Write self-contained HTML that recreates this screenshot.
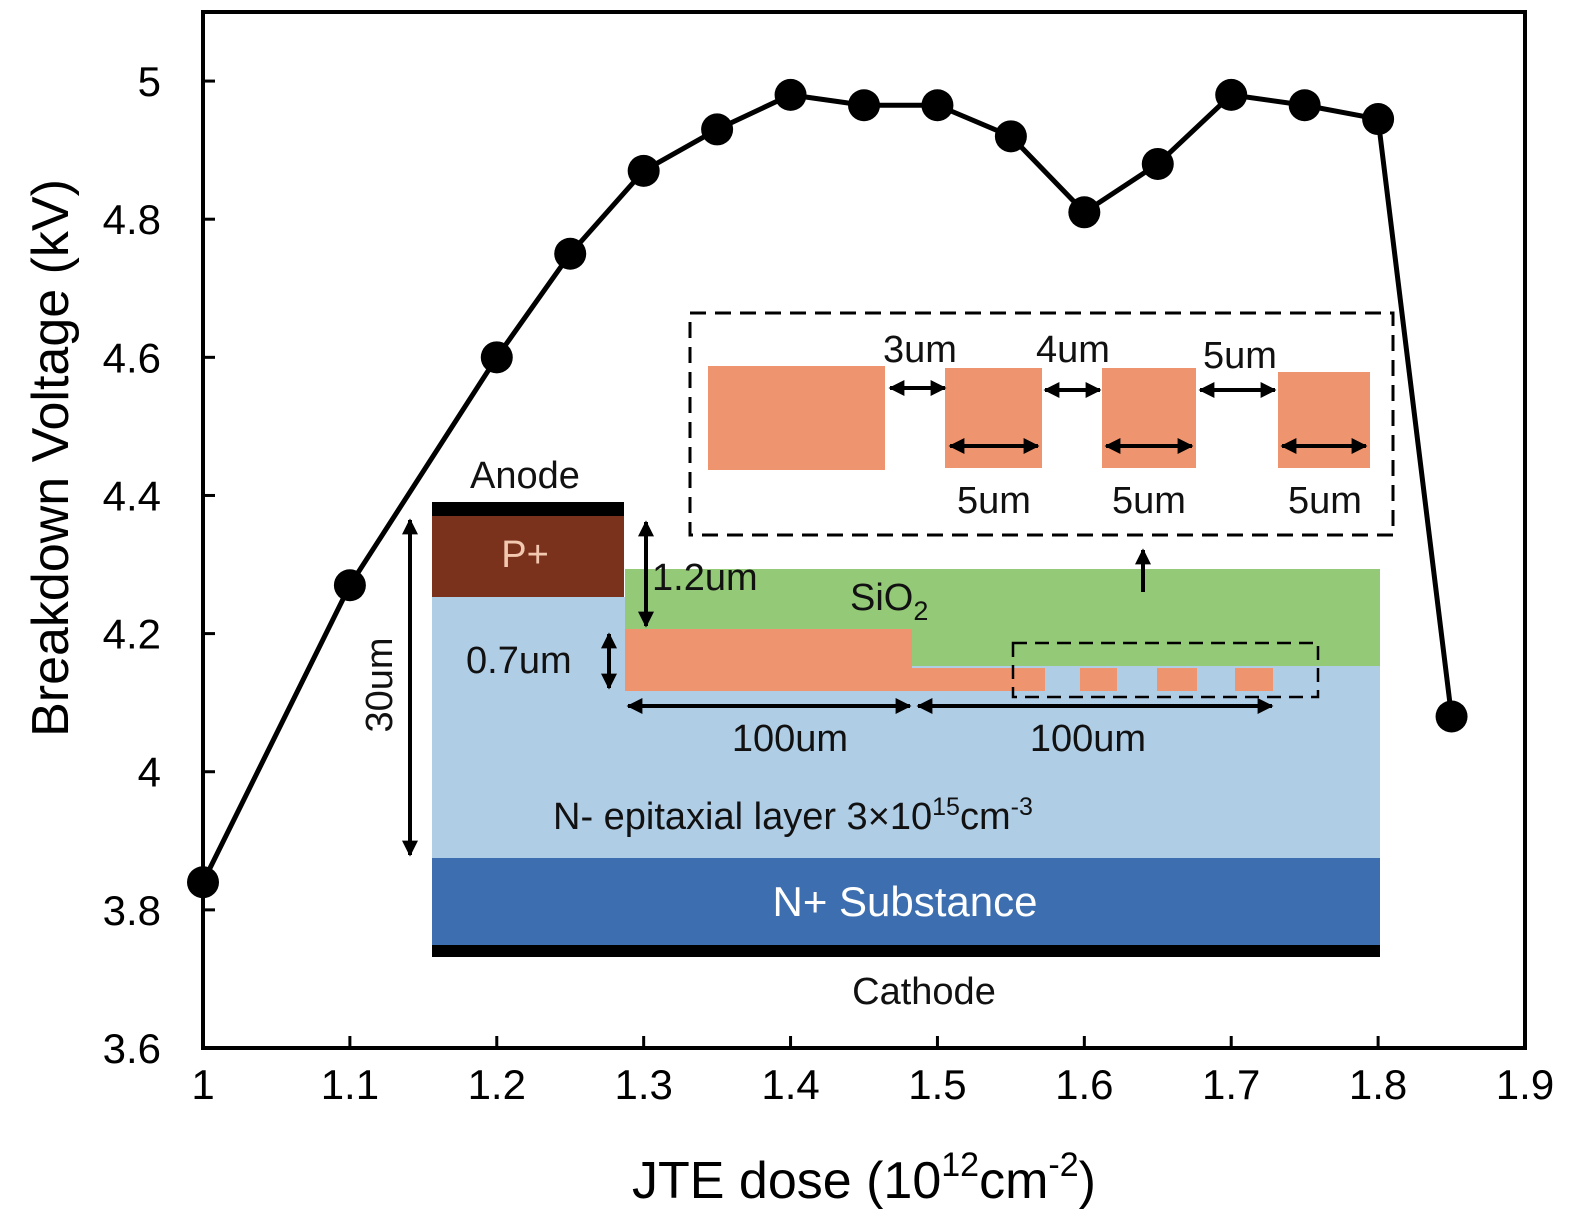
<!DOCTYPE html>
<html><head><meta charset="utf-8"><style>
html,body{margin:0;padding:0;background:#fff;}
svg{display:block;font-family:"Liberation Sans",Arial,sans-serif;}
</style></head><body>
<svg id="chart" width="1575" height="1221" viewBox="0 0 1575 1221">
<defs>
<marker id="ah" viewBox="0 0 10 10" refX="9" refY="5" markerWidth="4" markerHeight="4" orient="auto-start-reverse"><path d="M0,0 L10,5 L0,10 z" fill="#000"/></marker>
</defs>
<g id="inset">
  <rect x="432" y="597" width="948" height="261" fill="#b0cde6"/>
  <rect x="625" y="569" width="755" height="97" fill="#93c977"/>
  <rect x="432" y="516" width="192" height="81" fill="#7a321c"/>
  <rect x="432" y="502" width="192" height="14" fill="#000"/>
  <rect x="432" y="858" width="948" height="88" fill="#3d6fb0"/>
  <rect x="432" y="945" width="948" height="12" fill="#000"/>
  <g fill="#ee9570">
    <rect x="625" y="629" width="287" height="62"/>
    <rect x="912" y="668" width="133" height="23"/>
    <rect x="1080" y="668" width="37" height="23"/>
    <rect x="1157" y="668" width="40" height="23"/>
    <rect x="1235" y="668" width="38" height="23"/>
    <rect x="708" y="366" width="177" height="104"/>
    <rect x="945" y="368" width="97" height="100"/>
    <rect x="1102" y="368" width="94" height="100"/>
    <rect x="1278" y="372" width="92" height="96"/>
  </g>
  <rect x="1013" y="643" width="305" height="54" fill="none" stroke="#000" stroke-width="2.5" stroke-dasharray="14,8"/>
  <rect x="690" y="313" width="703" height="222" fill="none" stroke="#000" stroke-width="3" stroke-dasharray="16,9"/>
  <g stroke="#000" stroke-width="4" fill="none" marker-start="url(#ah)" marker-end="url(#ah)">
    <line x1="410" y1="520" x2="410" y2="855"/>
    <line x1="646" y1="522" x2="646" y2="626"/>
    <line x1="609" y1="634" x2="609" y2="688"/>
    <line x1="628" y1="706" x2="910" y2="706"/>
    <line x1="918" y1="706" x2="1272" y2="706"/>
    <line x1="890" y1="388" x2="945" y2="388"/>
    <line x1="1045" y1="390" x2="1100" y2="390"/>
    <line x1="1200" y1="390" x2="1275" y2="390"/>
    <line x1="950" y1="446" x2="1038" y2="446"/>
    <line x1="1106" y1="446" x2="1192" y2="446"/>
    <line x1="1282" y1="446" x2="1366" y2="446"/>
    <line x1="1143" y1="592" x2="1143" y2="550" marker-start="none"/>
  </g>
  <g font-size="38" fill="#111">
    <text x="525" y="488" text-anchor="middle">Anode</text>
    <text x="525" y="567" text-anchor="middle" fill="#f3c8b0">P+</text>
    <text x="652" y="590">1.2um</text>
    <text x="850" y="610">SiO<tspan font-size="27" dy="10">2</tspan></text>
    <text x="466" y="673">0.7um</text>
    <text x="392" y="685" text-anchor="middle" transform="rotate(-90 392 685)">30um</text>
    <text x="790" y="751" text-anchor="middle">100um</text>
    <text x="1088" y="751" text-anchor="middle">100um</text>
    <text x="553" y="829">N- epitaxial layer 3×10<tspan font-size="25" dy="-14">15</tspan><tspan dy="14">cm</tspan><tspan font-size="25" dy="-14">-3</tspan></text>
    <text x="905" y="916" text-anchor="middle" fill="#fff" font-size="42">N+ Substance</text>
    <text x="924" y="1004" text-anchor="middle">Cathode</text>
    <text x="920" y="362" text-anchor="middle">3um</text>
    <text x="1073" y="362" text-anchor="middle">4um</text>
    <text x="1240" y="368" text-anchor="middle">5um</text>
    <text x="994" y="513" text-anchor="middle">5um</text>
    <text x="1149" y="513" text-anchor="middle">5um</text>
    <text x="1325" y="513" text-anchor="middle">5um</text>
  </g>
</g>
<rect x="203" y="12" width="1322" height="1036" fill="none" stroke="#000" stroke-width="4"/>
<g id="axes"></g>
<g id="series"></g>
<text x="864" y="1198" text-anchor="middle" font-size="52">JTE dose (10<tspan font-size="34" dy="-22">12</tspan><tspan dy="22">cm</tspan><tspan font-size="34" dy="-22">-2</tspan><tspan dy="22">)</tspan></text>
<text x="68" y="458" text-anchor="middle" font-size="52" transform="rotate(-90 68 458)">Breakdown Voltage (kV)</text>
<script>
const doses = [1.0,1.1,1.2,1.25,1.3,1.35,1.4,1.45,1.5,1.55,1.6,1.65,1.7,1.75,1.8,1.85];
const voltages = [3.84,4.27,4.60,4.75,4.87,4.93,4.98,4.965,4.965,4.92,4.81,4.88,4.98,4.965,4.945,4.08];
const xTicks = ["1","1.1","1.2","1.3","1.4","1.5","1.6","1.7","1.8","1.9"];
const yTicks = ["3.6","3.8","4","4.2","4.4","4.6","4.8","5"];
const NS="http://www.w3.org/2000/svg";
const xs = v => 203 + (v-1.0)/0.9*1322;
const ys = v => 1048 - (v-3.6)/1.5*1036;
const axes=document.getElementById('axes'), ser=document.getElementById('series');
xTicks.forEach(t=>{
  const x=xs(parseFloat(t));
  const l=document.createElementNS(NS,'line');
  l.setAttribute('x1',x);l.setAttribute('x2',x);l.setAttribute('y1',1048);l.setAttribute('y2',1036);l.setAttribute('stroke','#000');l.setAttribute('stroke-width',3);
  
  
  axes.appendChild(l);
  const tx=document.createElementNS(NS,'text');
  tx.setAttribute('x',x);tx.setAttribute('y',1099);tx.setAttribute('text-anchor','middle');tx.setAttribute('font-size',42);tx.textContent=t;
  
  
  axes.appendChild(tx);
});
yTicks.forEach(t=>{
  const y=ys(parseFloat(t));
  const l=document.createElementNS(NS,'line');
  l.setAttribute('x1',203);l.setAttribute('x2',215);l.setAttribute('y1',y);l.setAttribute('y2',y);l.setAttribute('stroke','#000');l.setAttribute('stroke-width',3);
  
  
  axes.appendChild(l);
  const tx=document.createElementNS(NS,'text');
  tx.setAttribute('x',161);tx.setAttribute('y',y+15);tx.setAttribute('text-anchor','end');tx.setAttribute('font-size',42);tx.textContent=t;
  
  
  axes.appendChild(tx);
});
const pl=document.createElementNS(NS,'polyline');
pl.setAttribute('points',doses.map((d,i)=>xs(d)+','+ys(voltages[i])).join(' '));
pl.setAttribute('fill','none');pl.setAttribute('stroke','#000');pl.setAttribute('stroke-width',5);pl.setAttribute('stroke-linejoin','round');


ser.appendChild(pl);
doses.forEach((d,i)=>{
  const c=document.createElementNS(NS,'circle');
  c.setAttribute('cx',xs(d));c.setAttribute('cy',ys(voltages[i]));c.setAttribute('r',16);c.setAttribute('fill','#000');
  
  
  ser.appendChild(c);
});
</script>
</svg>
</body></html>
